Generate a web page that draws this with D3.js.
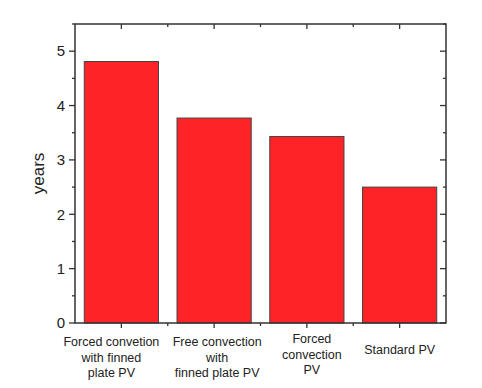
<!DOCTYPE html>
<html>
<head>
<meta charset="utf-8">
<script src="https://cdn.jsdelivr.net/npm/d3@7"></script>
<style>
  body { margin: 0; background: #fff; }
  text { font-family: "Liberation Sans", Arial, sans-serif; fill: #222; }
</style>
</head>
<body>
<div id="chart"></div>
<script>
// data
var categories = [
  ["Forced convetion", "with finned", "plate PV"],
  ["Free convection", "with", "finned plate PV"],
  ["Forced", "convection", "PV"],
  ["Standard PV"]
];
var years = [4.81, 3.77, 3.43, 2.50];
var yTicks = [0, 1, 2, 3, 4, 5];
var yMinor = [0.5, 1.5, 2.5, 3.5, 4.5, 5.5];

var svgWidth = 482, svgHeight = 388;
var margin = {top: 24, right: 36, bottom: 65, left: 75};
var chartWidth = svgWidth - margin.left - margin.right;
var chartHeight = svgHeight - margin.top - margin.bottom;

// small nudges of the category labels, as in the original
var labelNudge = [[-10, 0], [3, 0], [5, -3], [0, 0]];

var svg = d3.select("#chart").append("svg")
  .attr("width", svgWidth)
  .attr("height", svgHeight);

var chartGroup = svg.append("g")
  .attr("transform", `translate(${margin.left}, ${margin.top})`);

var idx = d3.range(years.length);
var xScale = d3.scaleBand().domain(idx).range([0, chartWidth]).paddingInner(0.2).paddingOuter(0.1);
var yScale = d3.scaleLinear().domain([0, 5.5]).range([chartHeight, 0]);

// bars
chartGroup.selectAll("rect.bar")
  .data(idx)
  .enter().append("rect")
  .attr("class", "bar")
  .attr("x", d => xScale(d))
  .attr("width", xScale.bandwidth())
  .attr("y", d => yScale(years[d]))
  .attr("height", d => chartHeight - yScale(years[d]))
  .attr("fill", "#fe2326")
  .attr("stroke", "#444")
  .attr("stroke-width", 1);

// frame
chartGroup.append("rect")
  .attr("width", chartWidth)
  .attr("height", chartHeight)
  .attr("fill", "none")
  .attr("stroke", "#333")
  .attr("stroke-width", 1.5);

var centers = idx.map(d => xScale(d) + xScale.bandwidth() / 2);
var step = xScale.step();
var bounds = d3.range(1, years.length).map(i => centers[0] + (i - 0.5) * step);

function tickLines(g, data, x1, y1, x2, y2) {
  g.selectAll(null).data(data).enter().append("line")
    .attr("x1", x1).attr("y1", y1).attr("x2", x2).attr("y2", y2)
    .attr("stroke", "#333").attr("stroke-width", 1.3);
}

// left axis
tickLines(chartGroup, yTicks, -6, d => yScale(d), 0, d => yScale(d));
tickLines(chartGroup, yMinor, -3, d => yScale(d), 0, d => yScale(d));
// right axis (inward)
tickLines(chartGroup, yTicks, chartWidth - 6, d => yScale(d), chartWidth, d => yScale(d));
tickLines(chartGroup, yMinor, chartWidth - 3, d => yScale(d), chartWidth, d => yScale(d));
// bottom axis
tickLines(chartGroup, centers, d => d, chartHeight, d => d, chartHeight + 5);
tickLines(chartGroup, bounds, d => d, chartHeight, d => d, chartHeight + 3);
// top axis (inward)
tickLines(chartGroup, centers, d => d, 0, d => d, 5);
tickLines(chartGroup, bounds, d => d, 0, d => d, 3);

// y tick labels
chartGroup.selectAll("text.ytick")
  .data(yTicks)
  .enter().append("text")
  .attr("class", "ytick")
  .attr("x", -10)
  .attr("y", d => yScale(d))
  .attr("dy", "0.35em")
  .attr("text-anchor", "end")
  .attr("font-size", "15px")
  .text(d => d);

// x labels
var xl = chartGroup.selectAll("text.xlab")
  .data(idx)
  .enter().append("text")
  .attr("class", "xlab")
  .attr("text-anchor", "middle")
  .attr("font-size", "12.5px")
  .attr("transform", d => `translate(${centers[d] + labelNudge[d][0]}, ${chartHeight + 23 + labelNudge[d][1]})`);
xl.each(function(d) {
  var lines = categories[d];
  var off = lines.length === 1 ? 8 : 0;
  d3.select(this).selectAll("tspan").data(lines).enter().append("tspan")
    .attr("x", 0)
    .attr("y", (l, i) => off + i * 15.5)
    .text(l => l);
});

// y axis title
chartGroup.append("text")
  .attr("transform", "rotate(-90)")
  .attr("x", -(yScale(2.75)))
  .attr("y", -31)
  .attr("text-anchor", "middle")
  .attr("font-size", "17px")
  .text("years");
</script>
</body>
</html>
